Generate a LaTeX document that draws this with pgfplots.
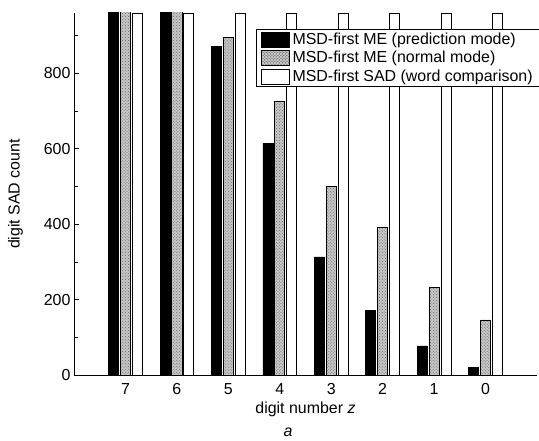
\documentclass[border=0pt]{standalone}
\usepackage{pgfplots}
\pgfplotsset{compat=1.18}
\usepackage{fontspec}
\setmainfont{Liberation Sans}
\usetikzlibrary{patterns}

\pgfplotstableread{
pos black gray white
0 1000 1000 958
1 1000 1000 958
2 871 895 958
3 615 726 958
4 313 500 958
5 172 392 958
6 77 233 958
7 19 146 958
}\datatable

\begin{document}
\begin{tikzpicture}[font=\fontsize{16}{19}\selectfont]
\begin{axis}[
  scale only axis, width=463bp, height=362bp,
  xmin=-1, xmax=8, ymin=0, ymax=960,
  axis x line*=bottom, axis y line*=left,
  axis line style={line width=0.8pt, -},
  xtick={0,...,7}, xticklabels={7,6,5,4,3,2,1,0},
  ytick={0,200,400,600,800}, minor ytick={100,300,500,700,900},
  tick align=inside, major tick length=5bp, minor tick length=4bp,
  x tick style={draw=none},
  y tick style={line width=0.6pt, black},
  xlabel={digit number \textit{z}}, ylabel={digit SAD count},
  ylabel shift=14bp,
  /pgf/number format/assume math mode=true,
  ybar, bar width=0.195,
  legend cell align=left,
  legend style={at={(rel axis cs:1,1)}, anchor=north east, xshift=3bp, yshift=-16bp,
    draw=black, line width=0.8pt, inner xsep=4bp, inner ysep=1.5bp, row sep=1.5bp,
    font=\fontsize{16}{19}\selectfont,
    nodes={inner xsep=3bp}},
]
\addplot[draw=black, line width=0.8pt, fill=black, bar shift=-0.23,
  legend image code/.code={\draw[draw=black, fill=black, line width=0.8pt] (0bp,-7.5bp) rectangle (28bp,7.5bp);}]
  table[x=pos, y=black] {\datatable};
\addplot[draw=black, line width=0.8pt, fill=black!22, bar shift=0,
  postaction={pattern=crosshatch dots, pattern color=black!60},
  legend image code/.code={\draw[draw=black, fill=black!22, line width=0.8pt, postaction={pattern=crosshatch dots, pattern color=black!60}] (0bp,-7.5bp) rectangle (28bp,7.5bp);}]
  table[x=pos, y=gray] {\datatable};
\addplot[draw=black, line width=0.8pt, fill=white, bar shift=0.23,
  legend image code/.code={\draw[draw=black, fill=white, line width=0.8pt] (0bp,-7.5bp) rectangle (28bp,7.5bp);}]
  table[x=pos, y=white] {\datatable};
\legend{MSD-first ME (prediction mode), MSD-first ME (normal mode), MSD-first SAD (word comparison)}
\coordinate (O) at (rel axis cs:0,0);
\end{axis}
\node[font=\fontsize{16}{19}\selectfont\itshape] at ([shift={(214bp,-57bp)}]O) {a};
\pgfresetboundingbox
\path ([shift={(-74bp,-66bp)}]O) rectangle ++(539bp,441bp);
\end{tikzpicture}
\end{document}
